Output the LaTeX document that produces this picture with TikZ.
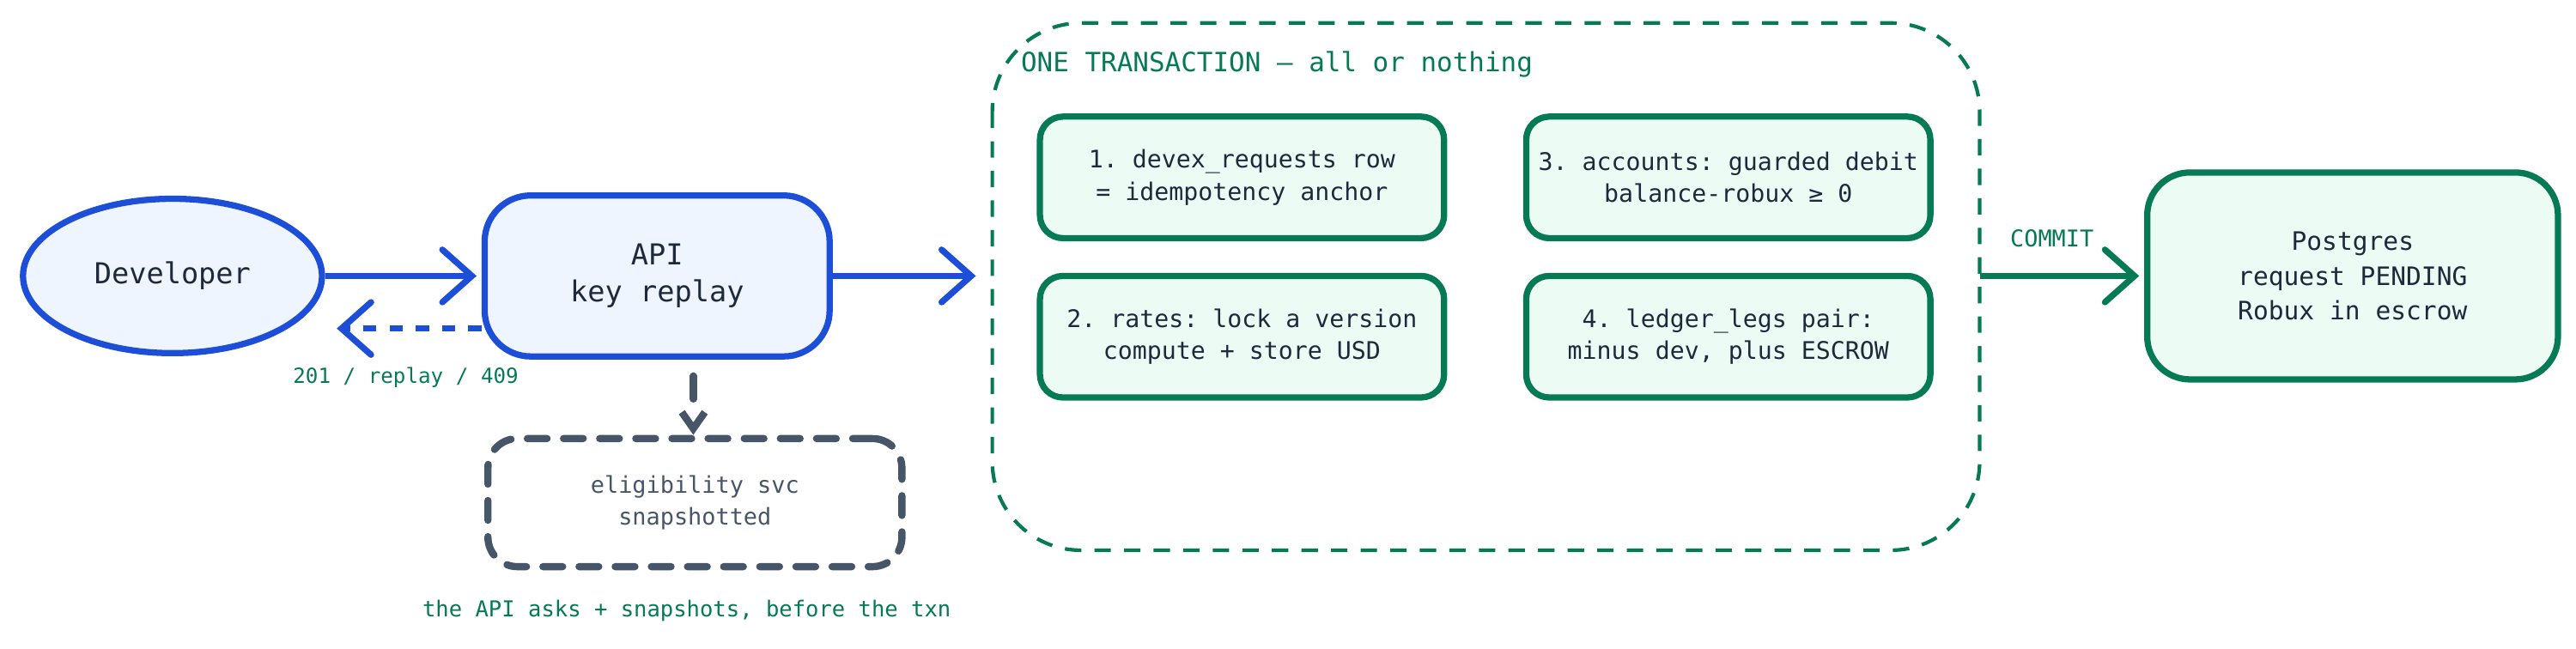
\documentclass[tikz,border=0pt]{standalone}
\usepackage{fontspec}
\setmonofont{DejaVu Sans Mono}
\usepackage{tikz}
\usetikzlibrary{arrows.meta,positioning,shapes.geometric}
\definecolor{devblue}{HTML}{1D4ED8}
\definecolor{devfill}{HTML}{EFF5FF}
\definecolor{txgreen}{HTML}{067A55}
\definecolor{txfill}{HTML}{ECFCF4}
\definecolor{svcgray}{HTML}{475569}
\definecolor{inkdark}{HTML}{1E293B}
\begin{document}
\begin{tikzpicture}[x=0.5mm,y=-0.5mm,font=\ttfamily,
    blue box/.style={draw=devblue,fill=devfill,line width=1.9mm,text=inkdark,align=center,
      font=\ttfamily\fontsize{25}{32}\selectfont},
    step box/.style={draw=txgreen,fill=txfill,line width=1.9mm,rounded corners=7mm,text=inkdark,
      align=center,minimum width=123mm,minimum height=37mm,font=\ttfamily\fontsize{21}{28}\selectfont},
    chev/.style={-{Straight Barb[length=9mm,width=16mm,line cap=round]}},
    note/.style={text=txgreen,font=\ttfamily\fontsize{18}{22}\selectfont}]
	\useasboundingbox (0,0) rectangle (1568,395);
	% transaction frame
	\draw[txgreen,line width=1.1mm,dash pattern=on 5mm off 4mm,rounded corners=27mm] (604,14) rectangle (1205,335);
	\node[anchor=west,text=txgreen,font=\ttfamily\fontsize{23}{26}\selectfont] (title) at (619,39) {ONE TRANSACTION – all or nothing};
	\node[step box] (s1) at (756,108) {1. devex\_requests row\\= idempotency anchor};
	\node[step box] (s3) at (1052,108) {3. accounts: guarded debit\\balance-robux ≥ 0};
	\node[step box] (s2) at (756,205) {2. rates: lock a version\\compute + store USD};
	\node[step box] (s4) at (1052,205) {4. ledger\_legs pair:\\minus dev, plus ESCROW};
	\coordinate (txin) at (594,168);
	\coordinate (txout) at (1205,168);
	% outside the transaction
	\node[blue box,ellipse,minimum width=91mm,minimum height=47mm] (dev) at (105,168) {Developer};
	\node[blue box,rounded corners=14mm,minimum width=105mm,minimum height=49mm] (api) at (400,168) {API\\key replay};
	\node[draw=svcgray,line width=2.2mm,line cap=round,dash pattern=on 6mm off 5mm,rounded corners=9mm,
	  minimum width=126mm,minimum height=39mm,text=svcgray,align=center,
	  font=\ttfamily\fontsize{20}{27}\selectfont] (svc) at (423,306) {eligibility svc\\snapshotted};
	\node[step box,rounded corners=13mm,minimum width=125mm,minimum height=63mm,
	  font=\ttfamily\fontsize{22}{30}\selectfont] (pg) at (1432,168) {Postgres\\request PENDING\\Robux in escrow};
	\draw[chev,devblue,line width=1.9mm,shorten >=1.5mm] (dev) -- (api);
	\draw[chev,devblue,line width=1.9mm,dash pattern=on 4mm off 4mm] (api.west|-0,200) -- (205,200);
	\node[note] (codes) at (247,230) {201 / replay / 409};
	\draw[chev,devblue,line width=1.9mm] (api) -- (txin);
	\draw[svcgray,line width=2.2mm,line cap=round,dash pattern=on 7mm off 8mm,
	  -{Straight Barb[length=5mm,width=7mm]}] (api.south-|422,0) ++(0,10) -- (svc.north-|422,0);
	\node[note,font=\ttfamily\fontsize{19}{22}\selectfont] (askcap) at (418,372) {the API asks + snapshots, before the txn};
	\draw[chev,txgreen,line width=1.9mm,shorten >=1.5mm] (txout) -- (pg);
	\node[note,font=\ttfamily\fontsize{20}{22}\selectfont] (commit) at (1249,145) {COMMIT};
\end{tikzpicture}
\end{document}
